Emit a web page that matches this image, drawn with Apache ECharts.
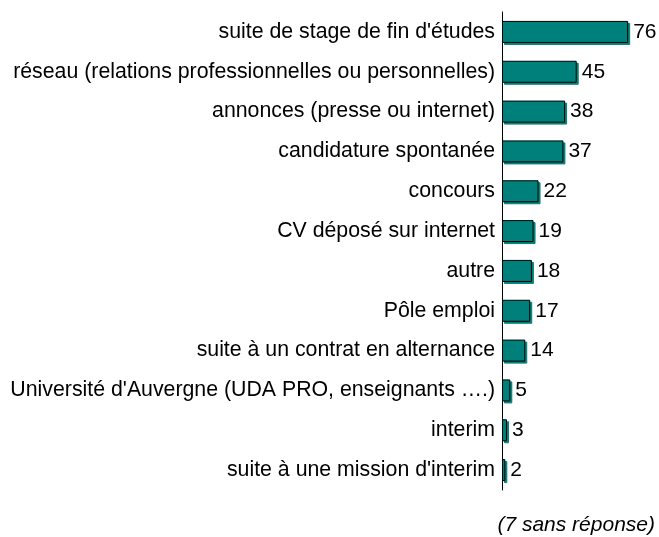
<!DOCTYPE html>
<html>
<head>
<meta charset="utf-8">
<script src="https://cdn.jsdelivr.net/npm/echarts@6/dist/echarts.min.js"></script>
<style>
  html, body { margin: 0; padding: 0; background: #fff; }
  #main { width: 659px; height: 537px; }
</style>
</head>
<body>
<div id="main"></div>
<script>
// categories, top to bottom
var categories = [
  "suite de stage de fin d'études",
  "réseau (relations professionnelles ou personnelles)",
  "annonces (presse ou internet)",
  "candidature spontanée",
  "concours",
  "CV déposé sur internet",
  "autre",
  "Pôle emploi",
  "suite à un contrat en alternance",
  "Université d'Auvergne (UDA PRO, enseignants ….)",
  "interim",
  "suite à une mission d'interim"
];
var counts = [76, 45, 38, 37, 22, 19, 18, 17, 14, 5, 3, 2];
var note = '(7 sans réponse)';

var chart = echarts.init(document.getElementById('main'));

chart.setOption({
  animation: false,
  textStyle: { fontFamily: 'Liberation Sans, Arial, sans-serif' },
  grid: { left: 502, top: 12, width: 149.4, height: 478 },
  xAxis: {
    type: 'value',
    min: 0,
    max: 90,
    show: false
  },
  yAxis: {
    type: 'category',
    inverse: true,
    data: categories,
    axisLine: { show: true, lineStyle: { color: '#000', width: 1 } },
    axisTick: { show: false },
    axisLabel: { color: '#000', fontSize: 21.3, margin: 7 }
  },
  series: [{
    type: 'bar',
    data: counts,
    barWidth: 22,
    itemStyle: {
      color: '#00807a',
      borderColor: '#000',
      borderWidth: 1,
      shadowColor: '#00807a',
      shadowOffsetX: 2,
      shadowOffsetY: 2,
      shadowBlur: 0
    },
    label: {
      show: true,
      position: 'right',
      distance: 5,
      color: '#000',
      fontSize: 21
    }
  }],
  graphic: [{
    type: 'text',
    right: 4,
    top: 515,
    style: {
      text: note,
      fill: '#000',
      font: 'italic 21px "Liberation Sans", Arial, sans-serif'
    }
  }]
});
</script>
</body>
</html>
